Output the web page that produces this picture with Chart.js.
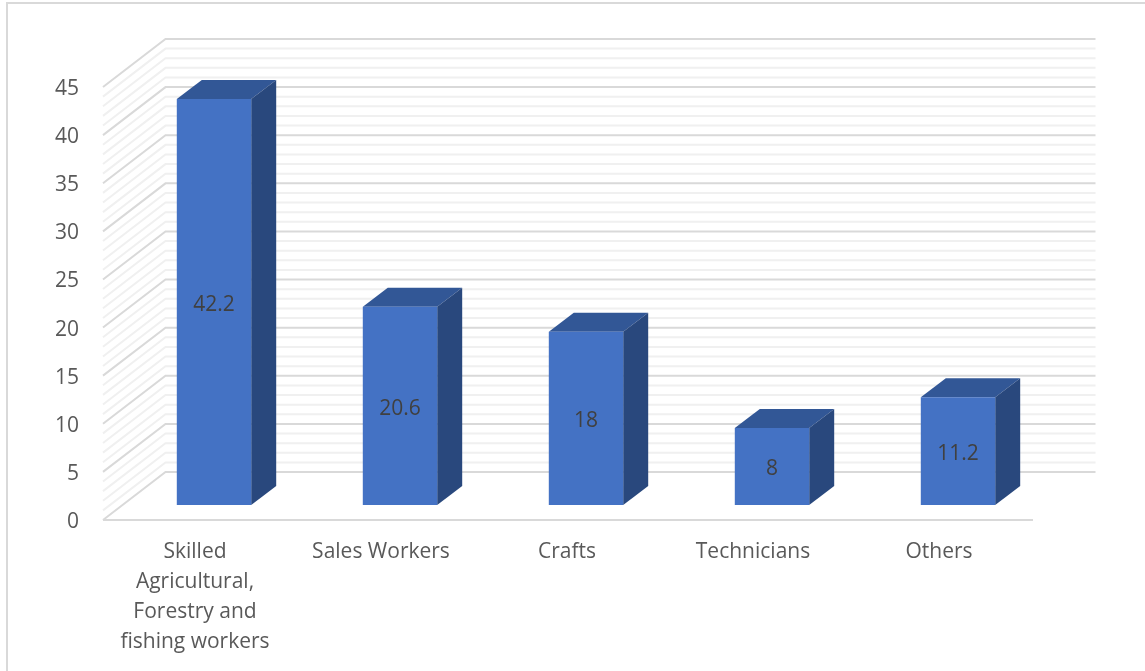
<!DOCTYPE html>
<html lang="en">
<head>
    <meta charset="UTF-8">
    <title>Occupations</title>
    <script src="https://cdn.jsdelivr.net/npm/chart.js"></script>
    <style>
        html, body { margin: 0; background: #fff; }
        #frame { position: absolute; left: 6px; top: 2px; width: 1139px; height: 669px; box-sizing: border-box; border: solid #d9d9d9; border-width: 2px 0 0 2px; }
        canvas { position: absolute; left: 0; top: 0; }
    </style>
</head>
<body>
    <div id="frame"></div>
    <canvas id="occupationChart" width="1145" height="671"></canvas>

    <script>
        const categories = [
            ['Skilled', 'Agricultural,', 'Forestry and', 'fishing workers'],
            'Sales Workers',
            'Crafts',
            'Technicians',
            'Others'
        ];
        const shares = [42.2, 20.6, 18, 8, 11.2];
        const axisMax = 45;
        const majorStep = 5;
        const minorStep = 1;

        // oblique projection: how far the back wall sits from the front plane
        const wallDepth = { x: 62.5, y: -48 };
        const barOffset = { x: 18, y: -15 };
        const barDepth = { x: 25, y: -19 };

        const textColor = '#595959';
        const fontFamily = '"Open Sans", sans-serif';

        // walls and floor lines, drawn behind the bars
        const wallPlugin = {
            id: 'walls',
            beforeDatasetsDraw(chart) {
                const { ctx, chartArea, scales } = chart;
                ctx.save();
                ctx.lineWidth = 2;
                const drawLevel = (v, color) => {
                    const y = scales.y.getPixelForValue(v);
                    ctx.strokeStyle = color;
                    ctx.beginPath();
                    ctx.moveTo(chartArea.left, y);
                    ctx.lineTo(chartArea.left + wallDepth.x, y + wallDepth.y);
                    ctx.lineTo(chartArea.right + wallDepth.x, y + wallDepth.y);
                    ctx.stroke();
                };
                for (let v = 0; v <= axisMax; v += minorStep) {
                    if (v % majorStep !== 0) drawLevel(v, '#f0f0f0');
                }
                for (let v = 0; v <= axisMax; v += majorStep) {
                    drawLevel(v, '#d9d9d9');
                }
                // front edge of the floor
                const y0 = scales.y.getPixelForValue(0);
                ctx.strokeStyle = '#d9d9d9';
                ctx.beginPath();
                ctx.moveTo(chartArea.left, y0);
                ctx.lineTo(chartArea.right, y0);
                ctx.stroke();
                ctx.restore();
            },
            // top and side of each block, then the front face is pushed back onto the floor
            beforeDatasetDraw(chart, args) {
                const { ctx } = chart;
                ctx.save();
                ctx.translate(barOffset.x, barOffset.y);
                args.meta.data.forEach((bar) => {
                    const left = bar.x - bar.width / 2;
                    const right = bar.x + bar.width / 2;
                    ctx.fillStyle = '#325796';
                    ctx.beginPath();
                    ctx.moveTo(left, bar.y);
                    ctx.lineTo(left + barDepth.x, bar.y + barDepth.y);
                    ctx.lineTo(right + barDepth.x, bar.y + barDepth.y);
                    ctx.lineTo(right, bar.y);
                    ctx.closePath();
                    ctx.fill();
                    ctx.fillStyle = '#29487d';
                    ctx.beginPath();
                    ctx.moveTo(right, bar.y);
                    ctx.lineTo(right + barDepth.x, bar.y + barDepth.y);
                    ctx.lineTo(right + barDepth.x, bar.base + barDepth.y);
                    ctx.lineTo(right, bar.base);
                    ctx.closePath();
                    ctx.fill();
                });
            },
            afterDatasetDraw(chart, args) {
                const { ctx } = chart;
                ctx.fillStyle = '#404040';
                ctx.font = '21px ' + fontFamily;
                ctx.textAlign = 'center';
                ctx.textBaseline = 'middle';
                args.meta.data.forEach((bar, i) => {
                    ctx.fillText(shares[i], bar.x, (bar.y + bar.base) / 2 + 3);
                });
                ctx.restore();
            }
        };

        new Chart(document.getElementById('occupationChart'), {
            type: 'bar',
            data: {
                labels: categories,
                datasets: [{
                    data: shares,
                    backgroundColor: '#4472c4',
                    barPercentage: 0.4,
                    categoryPercentage: 1
                }]
            },
            options: {
                responsive: false,
                animation: false,
                layout: { padding: { top: 87, right: 112, left: 0, bottom: 0 } },
                plugins: { legend: { display: false }, tooltip: { enabled: false } },
                scales: {
                    x: {
                        grid: { display: false },
                        border: { display: false },
                        ticks: {
                            color: textColor,
                            font: { family: fontFamily, size: 21, lineHeight: 1.43 },
                            padding: 9,
                            maxRotation: 0,
                            autoSkip: false,
                            labelOffset: -1
                        },
                        afterFit(scale) { scale.height = 151; }
                    },
                    y: {
                        min: 0,
                        max: axisMax,
                        grid: { display: false },
                        border: { display: false },
                        ticks: {
                            stepSize: majorStep,
                            color: textColor,
                            font: { family: fontFamily, size: 21 },
                            padding: 16,
                            labelOffset: 2
                        },
                        afterFit(scale) { scale.width = 103; }
                    }
                }
            },
            plugins: [wallPlugin]
        });
    </script>
</body>
</html>
